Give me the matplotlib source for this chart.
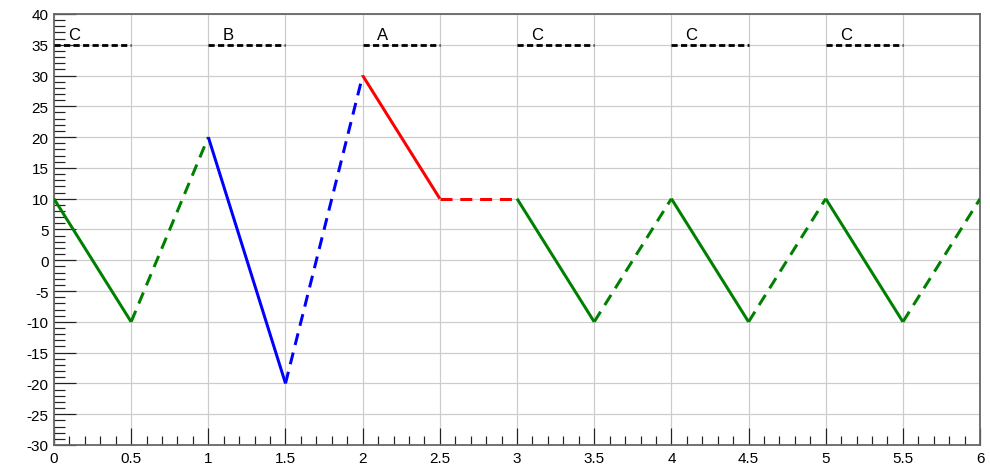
import matplotlib
matplotlib.use("Agg")
import matplotlib.pyplot as plt
from matplotlib.ticker import MultipleLocator

plt.rcParams['font.family'] = ['Liberation Sans', 'DejaVu Sans']

# Knot positions and values of the zig-zag signal
x_knots = [0, 0.5, 1, 1.5, 2, 2.5, 3, 3.5, 4, 4.5, 5, 5.5, 6]
y_knots = [10, -10, 20, -20, 30, 10, 10, -10, 10, -10, 10, -10, 10]
# Segment colours for each half-unit step
seg_colors = ['green', 'green', 'blue', 'blue', 'red', 'red',
              'green', 'green', 'green', 'green', 'green', 'green']
# State markers above each unit interval
state_x = [0, 1, 2, 3, 4, 5]
state_labels = ['C', 'B', 'A', 'C', 'C', 'C']
state_level = 35
state_width = 0.5

fig = plt.figure(figsize=(9.9, 4.77), dpi=100)
ax = fig.add_axes([0.0545, 0.065, 0.9355, 0.9036])

px = 0.72  # one pixel in points
for i in range(len(x_knots) - 1):
    ls = '-' if i % 2 == 0 else (0, (4.0, 2.6))
    ax.plot(x_knots[i:i + 2], y_knots[i:i + 2], color=seg_colors[i],
            linewidth=3.0 * px, linestyle=ls, solid_capstyle='butt',
            dash_capstyle='butt', zorder=3)

for xs, lab in zip(state_x, state_labels):
    ax.plot([xs, xs + state_width], [state_level, state_level], color='black',
            linewidth=2.8 * px, linestyle=(0, (2.2, 1.2)), zorder=3)
    ax.text(xs + 0.13, state_level + 1.0, lab, fontsize=12, ha='center',
            va='baseline', color='black', zorder=4)

ax.set_xlim(0, 6)
ax.set_ylim(-30, 40)
ax.xaxis.set_major_locator(MultipleLocator(0.5))
ax.xaxis.set_minor_locator(MultipleLocator(0.1))
ax.yaxis.set_major_locator(MultipleLocator(5))
ax.yaxis.set_minor_locator(MultipleLocator(1))
ax.xaxis.set_major_formatter(plt.FuncFormatter(lambda v, p: f"{v:g}"))
ax.yaxis.set_major_formatter(plt.FuncFormatter(lambda v, p: f"{v:g}"))

ax.grid(True, which='major', color='#cccccc', linewidth=1.2 * px, zorder=0)
ax.set_axisbelow(True)

ax.tick_params(axis='both', which='both', direction='in', colors='#222222',
               labelcolor='black', labelsize=11, width=1.2 * px)
ax.tick_params(axis='x', which='major', length=17 * px, pad=4)
ax.tick_params(axis='x', which='minor', length=9 * px)
ax.tick_params(axis='y', which='major', length=22 * px, pad=4)
ax.tick_params(axis='y', which='minor', length=11 * px)

for side in ['top', 'right', 'bottom', 'left']:
    ax.spines[side].set_color('#666666')
    ax.spines[side].set_linewidth(1.8 * px)

fig.savefig('out.png', dpi=100)
